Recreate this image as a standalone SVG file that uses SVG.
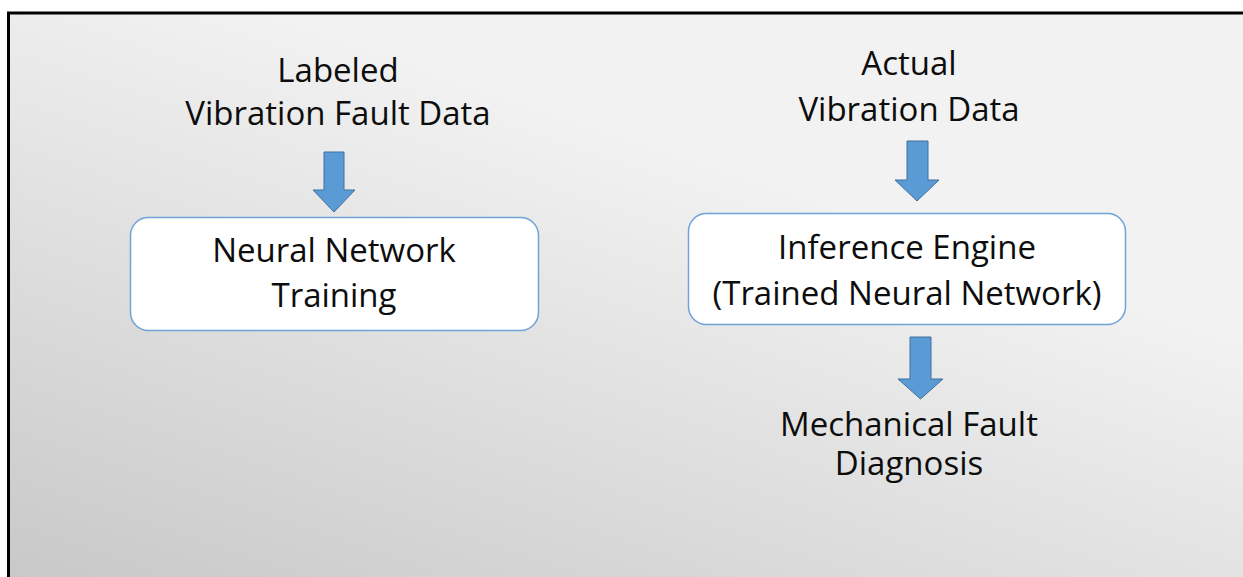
<svg xmlns="http://www.w3.org/2000/svg" width="1243" height="577" viewBox="0 0 1243 577">
<defs>
<linearGradient id="bg" x1="0" y1="1" x2="0.55" y2="0.25">
<stop offset="0" stop-color="#c6c6c6"/>
<stop offset="1" stop-color="#f2f2f2"/>
</linearGradient>
</defs>
<style>
.t{font-family:"Open Sans","Noto Sans",sans-serif;font-size:33px;fill:#0d0d0d;text-anchor:middle}
.box{fill:#fff;stroke:#6fa3d8;stroke-width:1.5}
.arr{fill:#5b9bd5;stroke:#41719c;stroke-width:1}
</style>
<rect x="0" y="0" width="1243" height="577" fill="#fff"/>
<rect x="8.5" y="13" width="1300" height="600" fill="url(#bg)" stroke="#000" stroke-width="3"/>
<g id="connectors">
<path class="arr" d="M324,152 H344 V190 H355 L334,212 L313,190 H324 Z"/>
<path class="arr" d="M907,141 H928 V180 H939 L917,201 L895,180 H907 Z"/>
<path class="arr" d="M910,337 H931 V379 H943 L920.5,399 L898,379 H910 Z"/>
</g>
<g id="input-labeled">
<text class="t" x="338" y="82">Labeled</text>
<text class="t" x="338" y="125">Vibration Fault Data</text>
</g>
<g id="training">
<rect class="box" x="130.5" y="217.5" width="408" height="113" rx="18"/>
<text class="t" x="334" y="262">Neural Network</text>
<text class="t" x="334" y="307">Training</text>
</g>
<g id="input-actual">
<text class="t" x="909" y="75">Actual</text>
<text class="t" x="909" y="121">Vibration Data</text>
</g>
<g id="inference">
<rect class="box" x="688.5" y="213.5" width="437" height="111" rx="18"/>
<text class="t" x="907" y="259">Inference Engine</text>
<text class="t" x="907" y="305">(Trained Neural Network)</text>
</g>
<g id="diagnosis">
<text class="t" x="909" y="436">Mechanical Fault</text>
<text class="t" x="909" y="475">Diagnosis</text>
</g>
</svg>
